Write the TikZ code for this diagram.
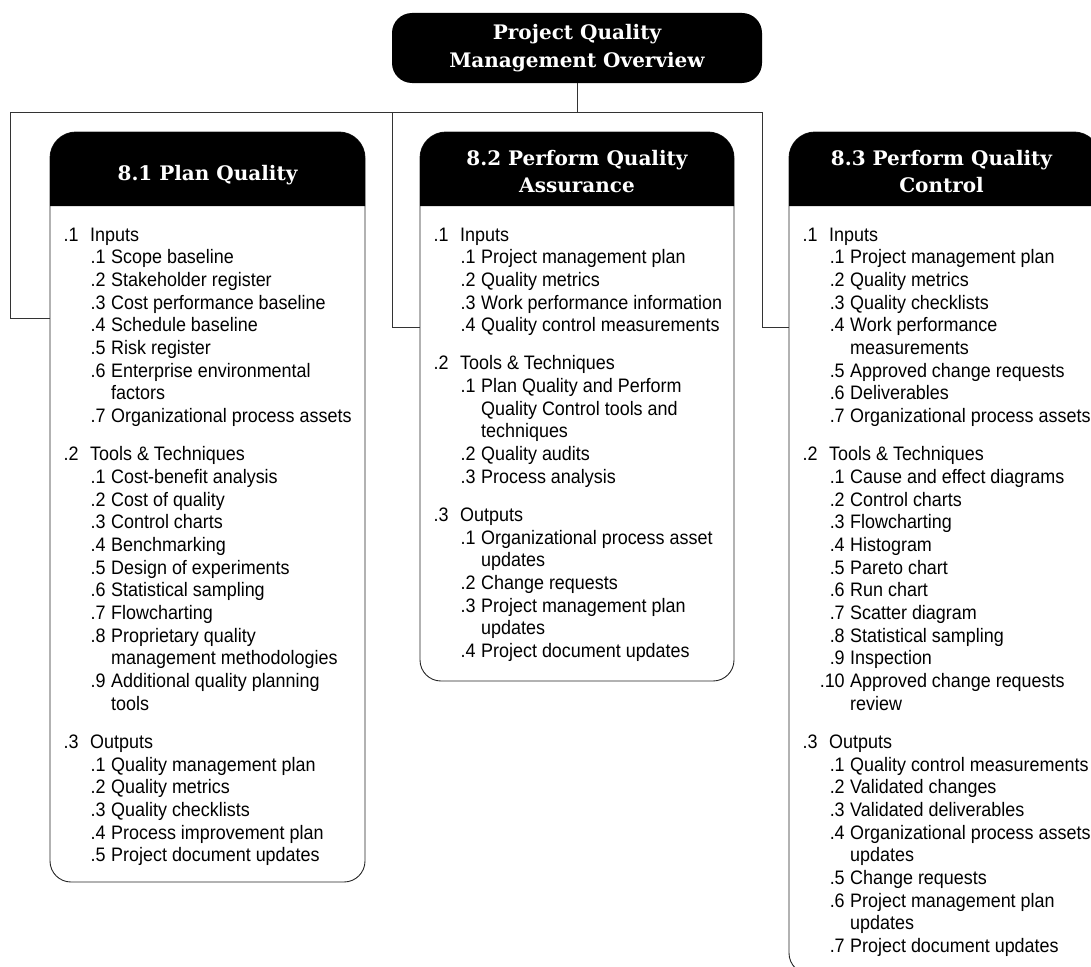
\documentclass[tikz,border=0pt]{standalone}
\usepackage{fontspec}
\setmainfont{Liberation Sans}[FakeStretch=0.92]
\newfontfamily\headfont{DejaVu Serif}
\newcommand\G[2]{\leavevmode\makebox[26.5pt][l]{#1}#2\par}
\newcommand\I[2]{\leavevmode\makebox[42pt][r]{#1}\hspace*{5.5pt}#2\par}
\newcommand\C[1]{\leavevmode\hspace*{47.5pt}#1\par}
\newcommand\gap{\vspace{15.3pt}}
\newcommand\qbox[3]{%
  \path[frame] (#1,158) arc[start angle=180,end angle=270,radius=26] -- ({#2-26},132) arc[start angle=270,end angle=360,radius=26] -- (#2,{#3-21}) arc[start angle=0,end angle=90,radius=21] -- ({#1+21},#3) arc[start angle=90,end angle=180,radius=21] -- cycle;
  \fill[black] (#1,206) -- (#1,158) arc[start angle=180,end angle=270,radius=26] -- ({#2-26},132) arc[start angle=270,end angle=360,radius=26] -- (#2,206) -- cycle;
}
\begin{document}
\begin{tikzpicture}[
  x=1pt, y=-1pt,
  conn/.style={draw=black!80, line width=0.9pt},
  frame/.style={draw=black!85, line width=0.9pt, fill=white},
  topbox/.style={fill=black, rounded corners=20pt, minimum width=370pt, minimum height=70pt, inner sep=0pt, text=white, align=center, font=\headfont\bfseries\fontsize{20}{28}\selectfont},
  headtxt/.style={text=white, inner sep=0pt, anchor=base, font=\headfont\bfseries\fontsize{20}{27}\selectfont},
  bodytxt/.style={inner sep=0pt, anchor=base west, font=\fontsize{19.5}{22.7}\selectfont},
]
\useasboundingbox[fill=white] (0,0) rectangle (1091,966);

% boxes
\qbox{50}{365}{882}
\qbox{420}{734}{681}
\qbox{789}{1100}{974}

% top node
\node[topbox] (top) at (577,48) {Project Quality\\Management Overview};

% connectors
\coordinate (bus) at (577,112);
\coordinate (j1) at (10,112);
\coordinate (j2) at (392,112);
\coordinate (j3) at (762,112);
\coordinate (b1w) at (50,318);
\coordinate (b2w) at (420,327);
\coordinate (b3w) at (789,327);
\draw[conn] (top.south) -- (bus);
\draw[conn] (j1) -- (j3);
\draw[conn] (j1) |- (b1w);
\draw[conn] (j2) |- (b2w);
\draw[conn] (j3) |- (b3w);

% headers
\node[headtxt] (h1) at (207.5,180) {8.1 Plan Quality};
\node[headtxt] (h2) at (577,165) {\begin{tabular}[t]{@{}c@{}}8.2 Perform Quality\\Assurance\end{tabular}};
\node[headtxt] (h3) at (941.5,165) {\begin{tabular}[t]{@{}c@{}}8.3 Perform Quality\\Control\end{tabular}};

% bodies
\node[bodytxt] (t1) at (63.5,241) {\begin{minipage}[t]{300pt}
\G{.1}{Inputs}
\I{.1}{Scope baseline}
\I{.2}{Stakeholder register}
\I{.3}{Cost performance baseline}
\I{.4}{Schedule baseline}
\I{.5}{Risk register}
\I{.6}{Enterprise environmental}
\C{factors}
\I{.7}{Organizational process assets}
\gap
\G{.2}{Tools \& Techniques}
\I{.1}{Cost-benefit analysis}
\I{.2}{Cost of quality}
\I{.3}{Control charts}
\I{.4}{Benchmarking}
\I{.5}{Design of experiments}
\I{.6}{Statistical sampling}
\I{.7}{Flowcharting}
\I{.8}{Proprietary quality}
\C{management methodologies}
\I{.9}{Additional quality planning}
\C{tools}
\gap
\G{.3}{Outputs}
\I{.1}{Quality management plan}
\I{.2}{Quality metrics}
\I{.3}{Quality checklists}
\I{.4}{Process improvement plan}
\I{.5}{Project document updates}
\end{minipage}};

\node[bodytxt] (t2) at (433.5,241) {\begin{minipage}[t]{300pt}
\G{.1}{Inputs}
\I{.1}{Project management plan}
\I{.2}{Quality metrics}
\I{.3}{Work performance information}
\I{.4}{Quality control measurements}
\gap
\G{.2}{Tools \& Techniques}
\I{.1}{Plan Quality and Perform}
\C{Quality Control tools and}
\C{techniques}
\I{.2}{Quality audits}
\I{.3}{Process analysis}
\gap
\G{.3}{Outputs}
\I{.1}{Organizational process asset}
\C{updates}
\I{.2}{Change requests}
\I{.3}{Project management plan}
\C{updates}
\I{.4}{Project document updates}
\end{minipage}};

\node[bodytxt] (t3) at (802.5,241) {\begin{minipage}[t]{300pt}
\G{.1}{Inputs}
\I{.1}{Project management plan}
\I{.2}{Quality metrics}
\I{.3}{Quality checklists}
\I{.4}{Work performance}
\C{measurements}
\I{.5}{Approved change requests}
\I{.6}{Deliverables}
\I{.7}{Organizational process assets}
\gap
\G{.2}{Tools \& Techniques}
\I{.1}{Cause and effect diagrams}
\I{.2}{Control charts}
\I{.3}{Flowcharting}
\I{.4}{Histogram}
\I{.5}{Pareto chart}
\I{.6}{Run chart}
\I{.7}{Scatter diagram}
\I{.8}{Statistical sampling}
\I{.9}{Inspection}
\I{.10}{Approved change requests}
\C{review}
\gap
\G{.3}{Outputs}
\I{.1}{Quality control measurements}
\I{.2}{Validated changes}
\I{.3}{Validated deliverables}
\I{.4}{Organizational process assets}
\C{updates}
\I{.5}{Change requests}
\I{.6}{Project management plan}
\C{updates}
\I{.7}{Project document updates}
\end{minipage}};
\end{tikzpicture}
\end{document}
